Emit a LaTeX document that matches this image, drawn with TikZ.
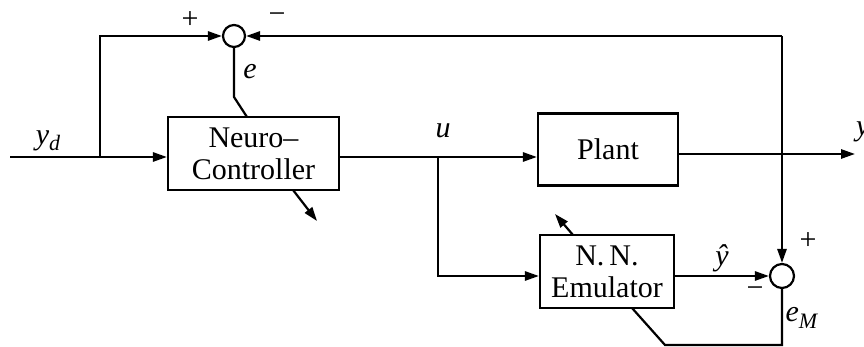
\documentclass[tikz,border=0pt]{standalone}
\usepackage{fontspec}
\setmainfont{Liberation Serif}
\usetikzlibrary{arrows.meta}
\begin{document}
\begin{tikzpicture}[x=0.5pt,y=-0.5pt,line width=1.1pt,
  arr/.style={-{Triangle[length=7pt,width=4.6pt]}},
  blk/.style={draw,align=center,inner sep=0pt,font=\fontsize{15}{16}\selectfont},
  sumc/.style={draw,circle,inner sep=0pt},
  lbl/.style={font=\fontsize{15}{16}\selectfont,inner sep=0pt}]
\useasboundingbox (0,0) rectangle (864,347);
% blocks
\node[blk,minimum width=85.5pt,minimum height=36.5pt] (ctrl) at (253.5,153.5) {Neuro–\\Controller};
\node[blk,minimum width=70pt,minimum height=36pt] (plant) at (608,149.5) {Plant};
\node[blk,minimum width=67pt,minimum height=36.5pt] (em) at (607,271.5) {N.\,N.\\Emulator};
\node[sumc,minimum size=11pt] (s1) at (234,36) {};
\node[sumc,minimum size=12pt] (s2) at (782,276) {};
% coordinates
\coordinate (in) at (10,157);
\coordinate (b1) at (100,157);
\coordinate (tr) at (782,36);
\coordinate (ek) at (234,97);
\coordinate (ee) at (247,117);
\coordinate (ub) at (438,157);
\coordinate (ul) at (438,276);
\coordinate (yo) at (855,154);
\coordinate (bb) at (782,345);
\coordinate (bl) at (665,345);
\coordinate (be) at (632,308);
\coordinate (a1s) at (293,190);
\coordinate (a1e) at (317,221);
\coordinate (a2s) at (573,235);
\coordinate (a2e) at (555,214);
% connectors
\draw[arr] (in) -- (ctrl.west |- in);
\draw[arr] (b1) |- (s1.west);
\draw[arr] (tr) -- (s1.east);
\draw[arr] (tr) -- (s2.north);
\draw (s1.south) -- (ek) -- (ee);
\draw (ctrl.east |- ub) -- (ub);
\draw[arr] (ub) -- (plant.west |- ub);
\draw[arr] (ub) -- (ul) -- (em.west |- ul);
\draw[arr] (plant.east |- yo) -- (yo);
\draw[arr] (em.east |- s2) -- (s2.west);
\draw (s2.south) -- (bb) -- (bl) -- (be);
\draw[arr] (a1s) -- (a1e);
\draw[arr] (a2s) -- (a2e);
% labels
\node[lbl] (lyd) at (48,141) {\textit{y}\raisebox{-0.45ex}{\fontsize{11}{12}\selectfont\textit{d}}};
\node[lbl] (lp1) at (190,20) {+};
\node[lbl] (lm1) at (277,18) {−};
\node[lbl] (le) at (250,72) {\textit{e}};
\node[lbl] (lu) at (443,131) {\textit{u}};
\node[lbl,anchor=west] (ly) at (855,132) {\textit{y}};
\node[lbl] (lyh) at (722,258) {\textit{ŷ}};
\node[lbl] (lp2) at (808,241) {+};
\node[lbl] (lm2) at (755,292) {−};
\node[lbl] (leM) at (802,318) {\textit{e}\raisebox{-0.45ex}{\fontsize{11}{12}\selectfont\textit{M}}};
\end{tikzpicture}
\end{document}
